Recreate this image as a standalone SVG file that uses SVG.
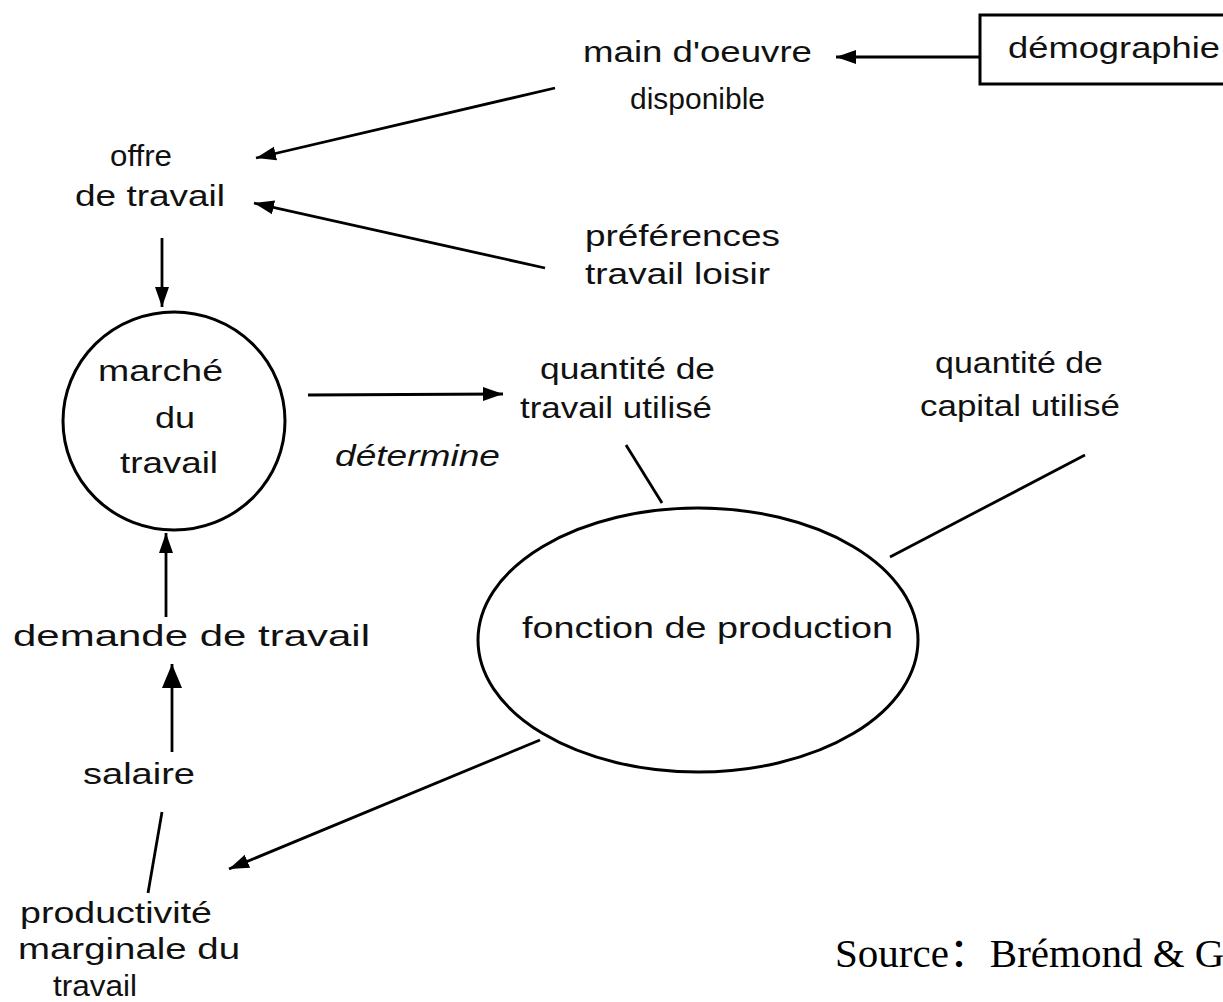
<svg xmlns="http://www.w3.org/2000/svg" width="1223" height="1002" viewBox="0 0 1223 1002">
<style>
.t{font-family:"Liberation Sans",Arial,sans-serif;font-size:30px;fill:#111;text-anchor:start}
.it{font-style:italic}
.src{font-family:"Liberation Serif","Times New Roman","Noto Sans CJK SC",serif;font-size:41px;fill:#000}
.shape{fill:none;stroke:#000;stroke-width:3}
.c{fill:none;stroke:#000;stroke-width:2.8}
</style>
<defs>
<marker id="ah" markerUnits="userSpaceOnUse" markerWidth="22" markerHeight="16" refX="20" refY="8" orient="auto">
<path d="M0,1 L20,8 L0,15 z" fill="#000"/>
</marker>
<marker id="ahb" markerUnits="userSpaceOnUse" markerWidth="26" markerHeight="20" refX="24" refY="10" orient="auto">
<path d="M0,0 L24,10 L0,20 z" fill="#000"/>
</marker>
</defs>
<rect width="1223" height="1002" fill="#fff"/>

<g id="connectors">
<line class="c" x1="980" y1="57" x2="836" y2="57" marker-end="url(#ah)"/>
<line class="c" x1="555" y1="88" x2="256" y2="158" marker-end="url(#ah)"/>
<line class="c" x1="545" y1="268" x2="254" y2="203" marker-end="url(#ah)"/>
<line class="c" x1="162" y1="238" x2="162" y2="307" marker-end="url(#ah)"/>
<line class="c" x1="308" y1="395" x2="503" y2="394" marker-end="url(#ah)"/>
<line class="c" x1="626" y1="445" x2="662" y2="503"/>
<line class="c" x1="1085" y1="455" x2="890" y2="557"/>
<line class="c" x1="166" y1="617" x2="166" y2="533" marker-end="url(#ah)"/>
<line class="c" x1="172" y1="752" x2="172" y2="664" marker-end="url(#ahb)"/>
<line class="c" x1="162" y1="812" x2="148" y2="893"/>
<line class="c" x1="540" y1="740" x2="229" y2="869" marker-end="url(#ah)"/>
</g>

<g id="demographie">
<path class="shape" d="M1223,15 L980,15 L980,84 L1223,84" stroke-width="3.5"/>
<text class="t" x="1008" y="58" textLength="212" lengthAdjust="spacingAndGlyphs">démographie</text>
</g>

<g id="main-oeuvre">
<text class="t" x="583" y="62" textLength="229" lengthAdjust="spacingAndGlyphs">main d'oeuvre</text>
<text class="t" x="630" y="109" textLength="135" lengthAdjust="spacingAndGlyphs">disponible</text>
</g>

<g id="offre">
<text class="t" x="110" y="166" textLength="62" lengthAdjust="spacingAndGlyphs">offre</text>
<text class="t" x="75" y="206" textLength="150" lengthAdjust="spacingAndGlyphs">de travail</text>
</g>

<g id="preferences">
<text class="t" x="585" y="246" textLength="195" lengthAdjust="spacingAndGlyphs">préférences</text>
<text class="t" x="585" y="284" textLength="185" lengthAdjust="spacingAndGlyphs">travail loisir</text>
</g>

<g id="marche">
<ellipse class="shape" cx="174" cy="421" rx="111" ry="109"/>
<text class="t" x="98" y="381" textLength="125" lengthAdjust="spacingAndGlyphs">marché</text>
<text class="t" x="155" y="428" textLength="40" lengthAdjust="spacingAndGlyphs">du</text>
<text class="t" x="120" y="473" textLength="98" lengthAdjust="spacingAndGlyphs">travail</text>
</g>

<g id="determine">
<text class="t it" x="335" y="466" textLength="165" lengthAdjust="spacingAndGlyphs">détermine</text>
</g>

<g id="quantite-travail">
<text class="t" x="540" y="379" textLength="175" lengthAdjust="spacingAndGlyphs">quantité de</text>
<text class="t" x="520" y="418" textLength="192" lengthAdjust="spacingAndGlyphs">travail utilisé</text>
</g>

<g id="quantite-capital">
<text class="t" x="935" y="373" textLength="168" lengthAdjust="spacingAndGlyphs">quantité de</text>
<text class="t" x="920" y="416" textLength="200" lengthAdjust="spacingAndGlyphs">capital utilisé</text>
</g>

<g id="fonction-production">
<ellipse class="shape" cx="698" cy="640" rx="220" ry="132"/>
<text class="t" x="522" y="638" textLength="371" lengthAdjust="spacingAndGlyphs">fonction de production</text>
</g>

<g id="demande">
<text class="t" x="13" y="646" textLength="357" lengthAdjust="spacingAndGlyphs">demande de travail</text>
</g>

<g id="salaire">
<text class="t" x="83" y="784" textLength="112" lengthAdjust="spacingAndGlyphs">salaire</text>
</g>

<g id="productivite">
<text class="t" x="20" y="923" textLength="192" lengthAdjust="spacingAndGlyphs">productivité</text>
<text class="t" x="18" y="959" textLength="222" lengthAdjust="spacingAndGlyphs">marginale du</text>
<text class="t" x="53" y="996" textLength="84" lengthAdjust="spacingAndGlyphs">travail</text>
</g>

<g id="source">
<text class="src" x="835" y="967">Source：Brémond &amp; G</text>
</g>
</svg>
